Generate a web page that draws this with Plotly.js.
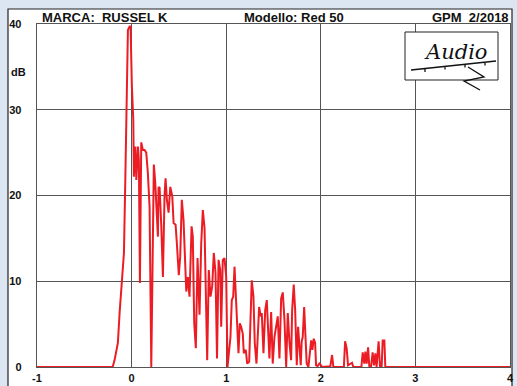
<!DOCTYPE html>
<html>
<head>
<meta charset="utf-8">
<script src="https://cdn.plot.ly/plotly-3.0.1.min.js"></script>
<style>html,body{margin:0;padding:0;background:#dce6f2;}#chart{width:517px;height:386px;}</style>
</head>
<body>
<div id="chart"></div>
<script>
// Time axis (ms) and level (dB) of the red impulse trace
const timeMs = [-1, -0.20, -0.18, -0.145, -0.127, -0.102, -0.081, -0.067, -0.053, -0.039, -0.021, -0.011,
  0.003, 0.018, 0.024, 0.039, 0.050, 0.067, 0.077, 0.088, 0.102, 0.119, 0.137, 0.155, 0.172, 0.190, 0.208,
  0.235, 0.250, 0.261, 0.278, 0.285, 0.296, 0.314, 0.331, 0.348, 0.359, 0.373, 0.391, 0.409, 0.430, 0.444,
  0.465, 0.478, 0.499, 0.514, 0.531, 0.549, 0.560, 0.578, 0.595, 0.612, 0.634, 0.647, 0.662, 0.679, 0.697,
  0.718, 0.736, 0.753, 0.771, 0.785, 0.799, 0.816, 0.834, 0.852, 0.869, 0.887, 0.903, 0.919, 0.937, 0.947,
  0.964, 0.982, 1.000, 1.014, 1.032, 1.045, 1.059, 1.074, 1.088, 1.101, 1.116, 1.130, 1.144, 1.158, 1.175,
  1.186, 1.207, 1.222, 1.243, 1.257, 1.270, 1.288, 1.302, 1.320, 1.334, 1.348, 1.365, 1.376, 1.394, 1.412,
  1.429, 1.443, 1.457, 1.475, 1.492, 1.510, 1.528, 1.545, 1.563, 1.581, 1.598, 1.616, 1.634, 1.651, 1.669,
  1.686, 1.697, 1.714, 1.729, 1.746, 1.760, 1.774, 1.788, 1.798, 1.809, 1.824, 1.837, 1.851, 1.869, 1.883,
  1.898, 1.911, 1.925, 1.940, 1.950, 1.967, 1.985, 2.003, 2.013, 2.101, 2.119, 2.133, 2.244, 2.257, 2.273,
  2.288, 2.320, 2.330, 2.344, 2.429, 2.443, 2.460, 2.471, 2.485, 2.500, 2.513, 2.531, 2.548, 2.563, 2.577,
  2.590, 2.603, 2.611, 2.626, 2.643, 2.654, 2.672, 2.682, 4];
const levelDb = [0, 0, 0.8, 2.8, 6.3, 9.8, 13.3, 21.5, 32.5, 39.3, 39.7, 39.7,
  32.7, 28.8, 22.2, 25.7, 21.8, 25.7, 24.1, 9.8, 26.2, 25.3, 25.3, 25.0, 22.6, 18.7, 0,
  23.6, 21.5, 18.7, 15.2, 21.0, 20.9, 16.4, 10.5, 19.9, 22.0, 19.5, 18.0, 21.0, 19.9, 16.8,
  16.6, 14.5, 10.7, 12.9, 19.5, 17.1, 12.9, 8.8, 10.5, 8.2, 16.4, 15.2, 5.1, 2.2, 12.7,
  6.1, 14.4, 18.3, 16.2, 7.0, 0.8, 11.3, 8.2, 9.4, 13.3, 11.0, 1.0, 12.5, 11.3, 4.7,
  12.5, 12.7, 10.5, 0, 2.0, 3.5, 7.8, 8.2, 11.7, 9.0, 5.9, 1.6, 5.1, 4.7, 3.9,
  1.6, 2.0, 0.4, 0.6, 5.1, 10.1, 8.2, 2.8, 0.4, 3.9, 7.0, 5.9, 6.3, 1.6, 6.6,
  7.8, 4.3, 1.0, 6.4, 0.4, 3.5, 4.7, 5.9, 1.0, 8.0, 8.7, 5.5, 0, 6.3, 2.8,
  0.8, 6.6, 9.6, 6.6, 0.2, 4.7, 2.8, 0.2, 3.0, 3.5, 7.0, 3.1, 0.4, 0, 1.6,
  3.1, 2.0, 3.3, 2.8, 0.2, 0.1, 0.4, 0.2, 0, 0.1, 1.4, 0, 0, 3.0, 2.2,
  0.2, 0.4, 0.5, 0, 0, 1.7, 0.4, 1.8, 0.4, 2.3, 0, 0, 1.7, 0.2, 1.6,
  0, 2.9, 3.0, 0, 0, 3.1, 3.1, 0, 0];
const xTicks = [-1, 0, 1, 2, 3, 4];
const yTicks = [0, 10, 20, 30, 40];
const headerLeft = 'MARCA:  RUSSEL K';
const headerMid = 'Modello: Red 50';
const headerRight = 'GPM  2/2018';
const yUnit = 'dB';

const W = 517, H = 386, L = 37, R = 7, T = 24, B = 19;
const pw = W - L - R, ph = H - T - B;
const px = v => (v - L) / pw;
const py = v => (H - B - v) / ph;
const boldFont = {family: 'Liberation Sans, Arial, sans-serif', size: 11, color: '#111', weight: 'bold'};
const headFont = {family: 'Liberation Sans, Arial, sans-serif', size: 13, color: '#111', weight: 'bold'};

const trace = {
  x: timeMs, y: levelDb, type: 'scatter', mode: 'lines',
  line: {color: '#ec1c24', width: 2}, hoverinfo: 'skip', cliponaxis: false
};

const logoPath = 'M ' + px(411) + ',' + py(70) + ' L ' + px(496) + ',' + py(61) +
  ' M ' + px(425) + ',' + py(68.5) + ' L ' + px(425) + ',' + py(72) +
  ' M ' + px(445) + ',' + py(66.4) + ' L ' + px(445) + ',' + py(69.5) +
  ' M ' + px(465) + ',' + py(64.3) + ' L ' + px(465) + ',' + py(67.5) +
  ' M ' + px(485) + ',' + py(62.2) + ' L ' + px(485) + ',' + py(65.5) +
  ' M ' + px(468) + ',' + py(67) + ' L ' + px(484) + ',' + py(77) + ' L ' + px(464) + ',' + py(81) + ' L ' + px(480) + ',' + py(90);

const layout = {
  width: W, height: H,
  margin: {l: L, r: R, t: T, b: B, pad: 0},
  paper_bgcolor: '#dce6f2', plot_bgcolor: '#ffffff',
  showlegend: false,
  xaxis: {
    range: [-1, 4], tickvals: xTicks, ticktext: xTicks.map(String),
    showgrid: true, gridcolor: '#555', gridwidth: 1.3, zeroline: false,
    showline: true, mirror: true, linecolor: '#555', linewidth: 1.3,
    ticks: '', tickfont: boldFont, layer: 'below traces', fixedrange: true
  },
  yaxis: {
    range: [0, 40], tickvals: yTicks, ticktext: yTicks.map(String),
    showgrid: true, gridcolor: '#555', gridwidth: 1.3, zeroline: false,
    showline: true, mirror: true, linecolor: '#555', linewidth: 1.3,
    ticks: '', tickfont: boldFont, ticklabelstandoff: 12, layer: 'below traces', fixedrange: true
  },
  shapes: [
    {type: 'rect', xref: 'paper', yref: 'paper', x0: px(8), x1: px(512), y0: py(400), y1: py(9),
     fillcolor: '#ffffff', line: {color: '#222', width: 1.2}, layer: 'below'},
    {type: 'rect', xref: 'paper', yref: 'paper', x0: px(405), x1: px(498), y0: py(80), y1: py(32),
     fillcolor: '#ffffff', line: {color: '#222', width: 1}, layer: 'above'},
    {type: 'path', xref: 'paper', yref: 'paper', path: logoPath, line: {color: '#111', width: 1.3}, layer: 'above'}
  ],
  annotations: [
    {xref: 'paper', yref: 'paper', x: px(40), y: py(17.5), xanchor: 'left', yanchor: 'middle',
     text: headerLeft, showarrow: false, font: headFont},
    {xref: 'paper', yref: 'paper', x: px(294), y: py(17.5), xanchor: 'center', yanchor: 'middle',
     text: headerMid, showarrow: false, font: headFont},
    {xref: 'paper', yref: 'paper', x: px(511), y: py(17.5), xanchor: 'right', yanchor: 'middle',
     text: headerRight, showarrow: false, font: headFont},
    {xref: 'paper', yref: 'paper', x: px(18), y: py(72), xanchor: 'center', yanchor: 'middle',
     text: yUnit, showarrow: false, font: boldFont},
    {xref: 'paper', yref: 'paper', x: px(456), y: py(52), xanchor: 'center', yanchor: 'middle',
     text: 'Audio', showarrow: false,
     font: {family: 'DejaVu Serif, serif', size: 21, color: '#111', style: 'italic'}}
  ]
};

Plotly.newPlot('chart', [trace], layout, {staticPlot: true, displayModeBar: false});
</script>
</body>
</html>
